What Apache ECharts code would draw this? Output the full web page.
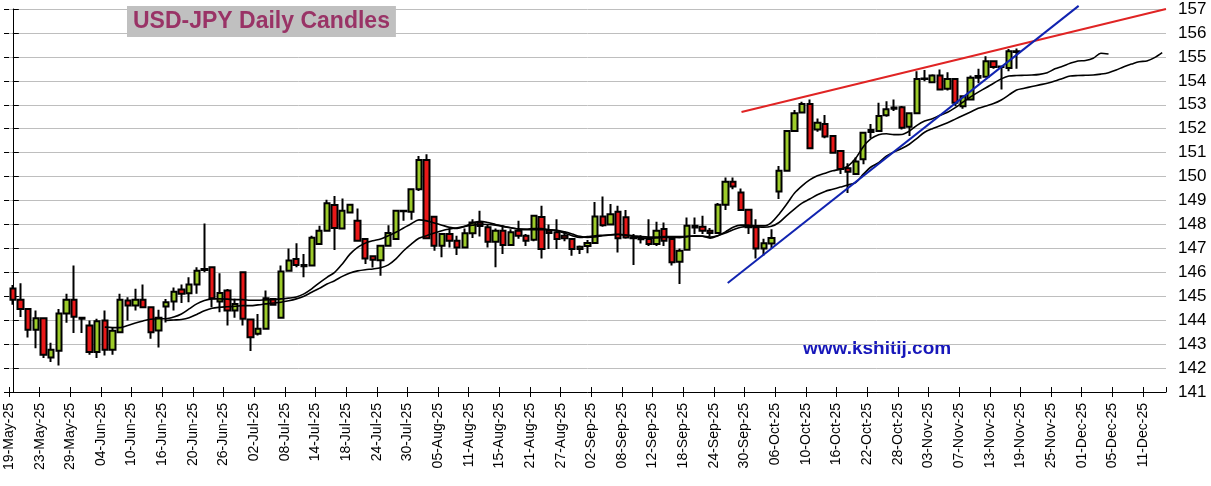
<!DOCTYPE html>
<html><head><meta charset="utf-8">
<script src="https://cdn.jsdelivr.net/npm/echarts@6/dist/echarts.min.js"></script>
<style>html,body{margin:0;padding:0;background:#fff}#c{width:1211px;height:486px}</style>
</head><body><div id="c"></div>
<script>
// ---- categories: weekdays from 19-May-25, 151 sessions (chart extends into the future) ----
const startDate = '2025-05-19';
const sessionCount = 151;
const monthNames = ['Jan','Feb','Mar','Apr','May','Jun','Jul','Aug','Sep','Oct','Nov','Dec'];
function buildWeekdays(start, n) {
  const out = [];
  const d = new Date(start + 'T00:00:00Z');
  while (out.length < n) {
    const wd = d.getUTCDay();
    if (wd !== 0 && wd !== 6) {
      const dd = String(d.getUTCDate()).padStart(2, '0');
      out.push(dd + '-' + monthNames[d.getUTCMonth()] + '-' + String(d.getUTCFullYear()).slice(2));
    }
    d.setUTCDate(d.getUTCDate() + 1);
  }
  return out;
}
const categories = buildWeekdays(startDate, sessionCount);

// ---- daily candles ----
const opens = [
145.32,144.85,144.47,143.60,144.08,142.44,142.72,144.28,144.85,144.10,
143.78,142.67,143.99,142.76,143.50,144.82,144.61,144.85,144.54,143.57,
144.57,144.78,145.28,145.13,145.49,146.14,146.21,144.78,145.24,144.40,
146.00,144.03,143.43,143.64,144.89,144.10,146.07,146.56,146.31,146.28,
147.18,147.74,148.81,147.83,148.50,148.15,147.39,146.67,146.50,147.11,
147.39,148.57,148.53,149.47,150.69,148.32,147.11,147.60,147.32,147.04,
147.63,148.08,147.88,147.28,147.74,147.14,147.74,147.53,147.36,148.31,
147.74,147.67,147.53,147.39,146.97,147.10,147.22,148.33,148.00,148.53,
148.30,147.45,147.40,147.39,147.18,147.81,147.39,146.44,146.94,147.94,
147.90,147.74,147.64,148.82,149.78,149.33,148.61,147.88,147.00,147.20,
149.38,150.24,151.90,152.68,153.03,151.97,152.20,151.69,151.07,150.35,
150.11,150.72,151.86,151.90,152.56,152.83,152.90,152.08,152.64,154.08,
153.94,154.22,153.67,154.08,152.94,153.22,154.13,154.17,154.82,154.58,
154.54,155.24];
const closes = [
144.85,144.47,143.60,144.08,142.56,142.76,144.28,144.85,144.14,144.06,
142.67,143.96,142.76,143.56,144.85,144.61,144.85,144.54,143.50,144.10,
144.75,145.19,145.10,145.49,146.07,146.10,144.92,145.14,144.40,144.68,
144.06,143.29,143.64,144.92,144.65,146.03,146.49,146.31,146.25,147.44,
147.74,148.88,147.85,148.57,148.82,147.32,146.58,146.53,147.11,147.64,
148.57,148.55,149.47,150.69,147.42,147.11,147.60,147.32,147.04,147.63,
148.08,147.93,147.28,147.74,147.14,147.67,147.53,147.32,148.36,146.97,
147.64,147.39,147.42,146.97,147.07,147.22,148.33,147.97,148.43,147.42,
147.45,147.42,147.38,147.18,147.74,147.32,146.42,146.90,147.94,147.87,
147.74,147.64,148.82,149.78,149.58,148.60,147.88,147.00,147.21,147.43,
150.24,151.90,152.64,153.03,151.18,152.25,151.67,151.00,150.32,150.20,
150.63,151.83,151.95,152.53,152.81,152.88,152.04,152.64,154.08,154.10,
154.22,153.64,154.08,153.08,153.36,154.13,154.20,154.82,154.58,154.60,
155.24,155.20];
const highs = [
145.47,145.54,144.50,144.40,144.10,143.06,144.47,145.10,146.28,144.12,
143.99,144.06,144.40,143.71,145.10,144.96,145.31,145.49,144.56,144.44,
144.89,145.37,145.49,145.79,146.21,148.04,146.21,145.96,145.30,144.90,
146.00,144.03,144.26,145.24,144.92,146.28,147.00,147.21,146.76,147.53,
147.94,149.03,149.19,149.08,148.85,148.67,147.40,146.67,147.11,147.97,
148.60,148.60,149.50,150.86,150.93,148.32,147.60,147.88,147.53,147.83,
148.22,148.57,147.99,147.83,147.97,147.80,148.15,147.60,148.40,148.78,
148.00,148.22,147.70,147.40,147.12,147.35,148.94,149.17,148.85,148.78,
148.60,147.60,147.55,148.22,148.11,148.08,147.40,147.00,148.29,148.29,
148.36,147.85,148.90,149.96,149.96,149.50,148.64,148.22,147.40,147.80,
150.44,151.90,152.78,153.13,153.22,152.43,152.57,151.70,151.07,150.56,
150.80,151.83,152.20,153.08,153.15,153.22,152.95,152.66,154.40,154.45,
154.27,154.47,154.36,154.10,153.40,154.22,154.50,155.03,154.82,154.60,
155.33,155.35];
const lows = [
144.65,144.13,143.28,142.83,142.42,142.25,142.11,143.89,143.46,143.46,
142.56,142.42,142.53,142.56,143.50,143.99,144.40,144.50,143.22,142.86,
143.90,144.40,144.72,144.75,145.10,146.00,144.54,144.33,143.78,144.10,
143.78,142.71,143.36,143.60,144.60,144.10,146.07,146.21,145.79,146.28,
147.18,147.74,146.93,147.80,148.50,147.30,146.35,146.20,145.86,147.10,
147.35,148.15,148.20,149.40,147.40,146.90,146.63,147.04,146.72,147.00,
147.43,147.50,147.04,146.21,146.76,147.10,147.40,147.10,147.30,146.58,
146.97,146.97,147.30,146.69,146.76,146.80,147.20,147.90,147.97,146.83,
147.40,146.31,147.20,147.10,147.10,147.10,146.28,145.51,146.90,147.60,
147.60,147.50,147.60,148.60,149.47,148.60,147.60,146.58,146.70,147.00,
149.06,150.24,151.90,152.64,151.14,151.87,151.60,150.97,150.11,149.31,
150.07,150.51,151.60,151.90,152.50,152.74,151.97,151.69,152.60,153.98,
153.90,153.62,153.60,152.94,152.83,153.20,153.90,154.15,154.50,153.64,
154.40,154.50];

// ---- two displaced moving averages ----
const fastStart = 12;
const fastValues = [
143.71,143.69,143.69,143.78,143.88,143.97,144.04,144.06,
144.06,144.13,144.26,144.47,144.68,144.82,144.89,144.89,144.88,144.86,
144.86,144.83,144.83,144.85,144.86,144.89,144.92,144.97,145.10,145.31,
145.56,145.79,146.00,146.35,146.76,147.04,147.22,147.32,147.39,147.53,
147.67,147.85,148.03,148.19,148.15,148.06,147.97,147.88,147.83,147.92,
148.06,148.13,148.08,148.00,147.92,147.86,147.81,147.81,147.83,147.83,
147.78,147.74,147.63,147.53,147.46,147.49,147.53,147.55,147.57,147.59,
147.55,147.50,147.44,147.43,147.44,147.46,147.46,147.45,147.49,147.53,
147.51,147.43,147.53,147.69,147.88,147.97,147.97,147.94,147.94,148.08,
148.43,148.85,149.30,149.61,149.86,150.03,150.14,150.24,150.31,150.44,
150.76,151.25,151.58,151.75,151.79,151.75,151.76,151.90,152.14,152.32,
152.42,152.56,152.69,152.88,153.11,153.33,153.53,153.71,153.90,154.08,
154.20,154.22,154.23,154.24,154.27,154.34,154.50,154.61,154.73,154.83,
154.85,154.94,155.15,155.12];
const slowStart = 20;
const slowValues = [
143.99,144.01,144.03,144.10,144.24,144.39,144.50,144.54,144.56,144.58,
144.61,144.61,144.64,144.68,144.72,144.75,144.81,144.89,145.00,145.17,
145.33,145.51,145.65,145.83,145.97,146.06,146.11,146.14,146.19,146.31,
146.56,146.90,147.18,147.42,147.53,147.64,147.74,147.81,147.86,147.92,
147.97,148.01,148.00,147.97,147.92,147.86,147.81,147.78,147.78,147.78,
147.78,147.76,147.69,147.60,147.50,147.46,147.48,147.53,147.56,147.58,
147.56,147.53,147.49,147.47,147.47,147.49,147.49,147.49,147.50,147.51,
147.51,147.47,147.53,147.64,147.78,147.88,147.92,147.90,147.88,147.92,
148.08,148.37,148.64,148.89,149.06,149.24,149.38,149.47,149.56,149.65,
149.75,150.10,150.40,150.58,150.85,151.03,151.17,151.35,151.60,151.85,
152.00,152.12,152.25,152.40,152.55,152.70,152.85,152.95,153.05,153.20,
153.41,153.62,153.69,153.76,153.83,153.90,153.99,154.10,154.20,154.22,
154.23,154.24,154.28,154.34,154.45,154.59,154.70,154.80,154.83,154.97,155.18];

// ---- trend lines: [session index, price] ----
const redTrend = [[95.1, 152.70], [150.5, 157.00]];
const blueTrend = [[93.3, 145.55], [139.1, 157.13]];

// ---- axis ----
const yMin = 141, yMax = 157, yStep = 1;
const labelEvery = 4;

function pad(start, values, n) {
  const arr = new Array(n).fill(null);
  values.forEach((v, i) => { arr[start + i] = v; });
  return arr;
}
const candleData = opens.map((o, i) => [o, closes[i], lows[i], highs[i]]);
const dateLabel = (v) => (Number.isInteger(v) && v % labelEvery === 0 && categories[v]) ? categories[v] : '';

const chart = echarts.init(document.getElementById('c'), null, {renderer: 'canvas'});
const FONT = 'Liberation Sans, Arial, sans-serif';
chart.setOption({
  animation: false,
  backgroundColor: '#ffffff',
  title: {
    text: 'USD-JPY Daily Candles',
    left: 127, top: 6,
    backgroundColor: '#C0C0C0',
    padding: [4, 6, 4, 6],
    textStyle: {color: '#993366', fontSize: 23, fontWeight: 'bold', fontFamily: FONT}
  },
  graphic: [{
    type: 'text', left: 803, top: 339,
    style: {text: 'www.kshitij.com', fill: '#1717BA', font: 'bold 19px ' + FONT}
  }],
  grid: {left: 9, right: 45, top: 9, bottom: 94, containLabel: false},
  xAxis: [
    { // sessions, for candles and averages
      type: 'category', data: categories, boundaryGap: true, show: false
    },
    { // session index scale, for trend lines
      type: 'value', min: -0.5, max: sessionCount - 0.5, show: false, position: 'top'
    },
    { // date ticks and labels on session boundaries
      type: 'value', min: 0, max: sessionCount, interval: labelEvery, position: 'bottom',
      axisLine: {show: true, lineStyle: {color: '#000', width: 1}},
      axisTick: {show: true, length: 5, lineStyle: {color: '#000'}},
      axisLabel: {show: true, rotate: 90, margin: 11, color: '#000', fontSize: 14, fontFamily: FONT,
        formatter: dateLabel, showMaxLabel: false},
      splitLine: {show: false}
    },
    { // inner half of the crossing ticks
      type: 'value', min: 0, max: sessionCount, interval: labelEvery, position: 'bottom',
      axisLine: {show: false},
      axisTick: {show: true, inside: true, length: 5, lineStyle: {color: '#000'}},
      axisLabel: {show: false}, splitLine: {show: false}
    }
  ],
  yAxis: [
    {
      type: 'value', position: 'right', min: yMin, max: yMax, interval: yStep,
      axisLine: {show: true, lineStyle: {color: '#000', width: 1}},
      axisTick: {show: true, length: 6, lineStyle: {color: '#000'}},
      axisLabel: {color: '#000', fontSize: 17, margin: 12, fontFamily: FONT},
      splitLine: {show: true, lineStyle: {color: '#BEBEBE', width: 1}}
    },
    {
      type: 'value', position: 'right', min: yMin, max: yMax, interval: yStep,
      axisLine: {show: false},
      axisTick: {show: true, inside: true, length: 5, lineStyle: {color: '#000'}},
      axisLabel: {show: false}, splitLine: {show: false}
    }
  ],
  series: [
    {
      type: 'candlestick', xAxisIndex: 0, yAxisIndex: 0,
      data: candleData, barWidth: 5.8,
      itemStyle: {color: '#9DCB2A', color0: '#E81818', borderColor: '#000', borderColor0: '#000', borderColorDoji: '#000', borderWidth: 2}
    },
    {
      type: 'line', xAxisIndex: 0, yAxisIndex: 0, data: pad(fastStart, fastValues, sessionCount),
      showSymbol: false, smooth: 0.3, connectNulls: false,
      lineStyle: {color: '#000', width: 1.6}
    },
    {
      type: 'line', xAxisIndex: 0, yAxisIndex: 0, data: pad(slowStart, slowValues, sessionCount),
      showSymbol: false, smooth: 0.3, connectNulls: false,
      lineStyle: {color: '#000', width: 1.6}
    },
    {
      type: 'line', xAxisIndex: 1, yAxisIndex: 0, data: redTrend, showSymbol: false, clip: false,
      lineStyle: {color: '#E02424', width: 2}
    },
    {
      type: 'line', xAxisIndex: 1, yAxisIndex: 0, data: blueTrend, showSymbol: false, clip: false,
      lineStyle: {color: '#1023B0', width: 2}
    }
  ]
});
</script>
</body></html>
